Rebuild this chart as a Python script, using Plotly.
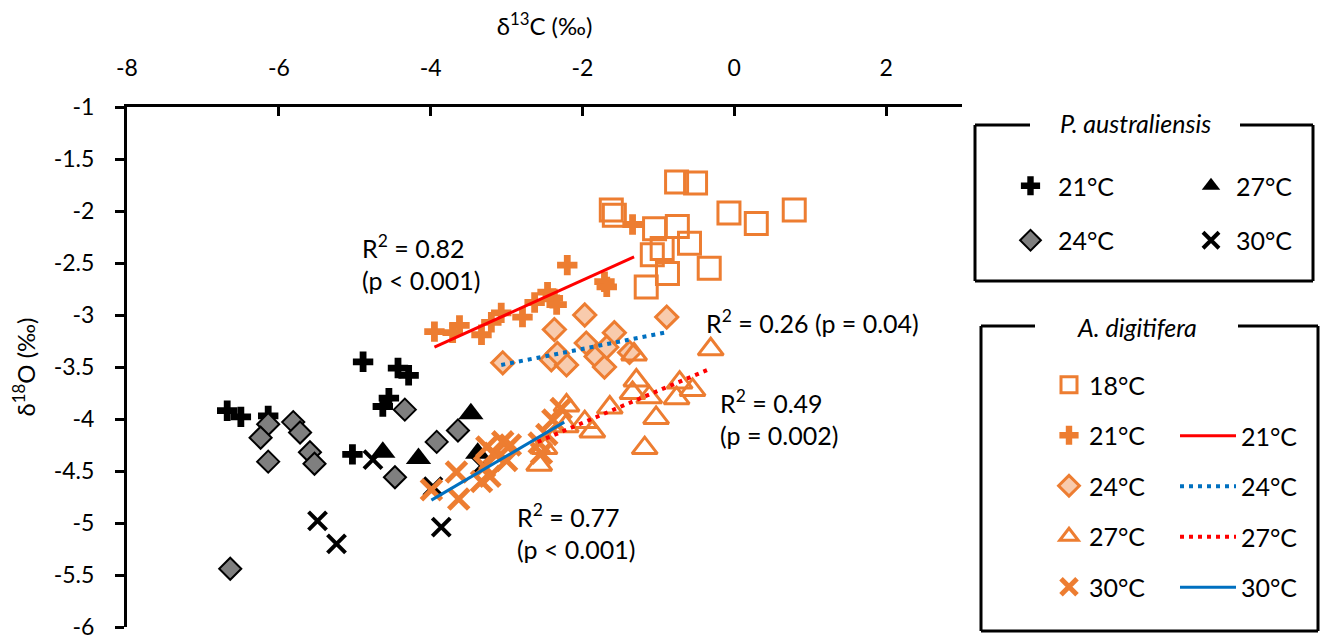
import plotly.graph_objects as go

# ---------------- data ----------------
# P. australiensis
pa21_x = [-6.68, -6.50, -6.14, -4.89, -4.43, -4.29, -4.55, -4.63, -5.03]
pa21_y = [-3.92, -3.98, -3.97, -3.45, -3.51, -3.58, -3.80, -3.88, -4.34]
pa24_x = [-6.14, -6.24, -5.81, -5.72, -6.14, -5.59, -5.53, -4.34, -4.47, -3.92, -3.64, -6.64]
pa24_y = [-4.05, -4.18, -4.03, -4.13, -4.41, -4.32, -4.43, -3.91, -4.56, -4.22, -4.11, -5.44]
pa27_x = [-4.63, -4.16, -3.47, -3.38]
pa27_y = [-4.32, -4.38, -3.95, -4.33]
pa30_x = [-4.76, -5.49, -5.24, -3.86, -3.97, -3.33]
pa30_y = [-4.39, -4.98, -5.20, -5.04, -4.65, -4.45]

# A. digitifera
ad18_x = [-0.76, -0.51, -1.62, -1.58, -0.07, 0.29, 0.79, -1.05, -0.75, -0.59, -1.08, -0.95, -0.33, -0.88, -1.16]
ad18_y = [-1.72, -1.73, -1.99, -2.04, -2.02, -2.12, -1.99, -2.17, -2.15, -2.31, -2.42, -2.36, -2.55, -2.60, -2.73]
ad21_x = [-3.95, -3.71, -3.62, -3.33, -3.20, -3.07, -2.79, -2.63, -2.46, -2.39, -2.34, -2.20, -1.71, -1.68, -1.34]
ad21_y = [-3.16, -3.17, -3.10, -3.19, -3.07, -2.98, -3.02, -2.88, -2.78, -2.84, -2.90, -2.52, -2.68, -2.73, -2.13]
ad24_x = [-3.05, -2.37, -1.97, -0.89, -2.41, -2.21, -2.33, -1.95, -1.82, -1.71, -1.58, -1.68, -1.38]
ad24_y = [-3.46, -3.14, -3.00, -3.02, -3.43, -3.48, -3.37, -3.27, -3.40, -3.50, -3.17, -3.31, -3.36]
ad27_x = [-1.32, -0.31, -1.29, -1.34, -1.12, -0.72, -0.55, -0.76, -1.03, -1.18, -1.64, -1.87, -1.97,
          -2.21, -2.57, -2.22, -2.50]
ad27_y = [-3.38, -3.33, -3.63, -3.75, -3.79, -3.65, -3.72, -3.80, -3.99, -4.28, -3.89, -4.12, -4.03,
          -3.87, -4.44, -4.07, -4.28]
ad30_x = [-3.99, -3.63, -3.66, -3.33, -3.29, -3.22, -3.16, -3.05, -3.26, -2.95, -3.00, -2.57, -2.54,
          -2.47, -2.39, -2.28]
ad30_y = [-4.68, -4.77, -4.51, -4.60, -4.46, -4.55, -4.33, -4.22, -4.27, -4.25, -4.40, -4.23, -4.33,
          -4.15, -4.01, -3.90]

# linear fits (end points of the trend lines)
fit21_x = [-3.95, -1.32]
fit21_y = [-3.31, -2.44]
fit24_x = [-3.07, -0.92]
fit24_y = [-3.48, -3.17]
fit27_x = [-2.59, -0.36]
fit27_y = [-4.22, -3.53]
fit30_x = [-3.99, -2.24]
fit30_y = [-4.78, -4.03]

x_ticks = [-8, -6, -4, -2, 0, 2]
x_tick_labels = ['-8', '-6', '-4', '-2', '0', '2']
y_ticks = [-1, -1.5, -2, -2.5, -3, -3.5, -4, -4.5, -5, -5.5, -6]
y_tick_labels = ['-1', '-1.5', '-2', '-2.5', '-3', '-3.5', '-4', '-4.5', '-5', '-5.5', '-6']

# ---------------- styling ----------------
ORANGE = '#ED7D31'
PEACH = '#F8CBAD'
GREY = '#7F7F7F'
FONT = 'Lato'

# the page body adds an 8px margin, so the figure is drawn 8px smaller
OFF = 8
W, H = 1329 - OFF, 641 - OFF
L, R, T, B = 127 - OFF, 367, 107 - OFF, 14


def px_x(p):
    # screen pixel (reference picture) -> paper x
    return (p - OFF - L) / (W - L - R)


def px_y(p):
    return (H - B - (p - OFF)) / (H - T - B)


fig = go.Figure()


def add_pts(x, y, name, legend, symbol, size, color, line_color=None, line_width=0):
    fig.add_trace(go.Scatter(
        x=x, y=y, mode='markers', name=name, legend=legend, legendgroup=legend + name,
        marker=dict(symbol=symbol, size=size, color=color,
                    line=dict(color=line_color or color, width=line_width)),
        hoverinfo='x+y'))


add_pts(pa21_x, pa21_y, '21°C', 'legend', 'cross', 17, 'black')
add_pts(pa24_x, pa24_y, '24°C', 'legend', 'diamond', 17, GREY, 'black', 2)
add_pts(pa27_x, pa27_y, '27°C', 'legend2', 'triangle-up', 22, 'black')
add_pts(pa30_x, pa30_y, '30°C', 'legend2', 'x-thin', 18, 'black', 'black', 4)

add_pts(ad18_x, ad18_y, '18°C', 'legend3', 'square-open', 22, ORANGE, ORANGE, 3)
add_pts(ad21_x, ad21_y, '21°C', 'legend3', 'cross', 17, ORANGE)
add_pts(ad24_x, ad24_y, '24°C', 'legend3', 'diamond', 17, PEACH, ORANGE, 3)
add_pts(ad27_x, ad27_y, '27°C', 'legend3', 'triangle-up-open', 22, ORANGE, ORANGE, 3)
add_pts(ad30_x, ad30_y, '30°C', 'legend3', 'x-thin', 20, ORANGE, ORANGE, 5)


def add_fit(x, y, name, color, dash, width):
    fig.add_trace(go.Scatter(
        x=x, y=y, mode='lines', name=name, legend='legend4', legendgroup='fit' + name,
        line=dict(color=color, width=width, dash=dash), hoverinfo='skip'))


add_fit(fit21_x, fit21_y, '21°C', '#FF0000', 'solid', 3)
add_fit(fit24_x, fit24_y, '24°C', '#0070C0', '4px,5px', 4)
add_fit(fit27_x, fit27_y, '27°C', '#FF0000', '4px,5px', 4)
add_fit(fit30_x, fit30_y, '30°C', '#0070C0', 'solid', 3)

# R² labels
notes = [
    (-4.93, -2.16, 'R<sup>2</sup> = 0.82<br>(p < 0.001)'),
    (-0.40, -2.885, 'R<sup>2</sup> = 0.26 (p = 0.04)'),
    (-0.22, -3.65, 'R<sup>2</sup> = 0.49<br>(p = 0.002)'),
    (-2.89, -4.75, 'R<sup>2</sup> = 0.77<br>(p < 0.001)'),
]
for nx, ny, txt in notes:
    fig.add_annotation(x=nx, y=ny, text=txt, showarrow=False, xanchor='left', yanchor='top',
                       align='left', font=dict(size=25, color='black', family=FONT))

# legend frames with the title breaking the top border
shapes = []
for (x0, x1, y0, y1, g0, g1, title, ty) in [
    (975, 1313, 125, 281, 1030, 1240, 'P. australiensis', 123),
    (981, 1318, 326, 631, 1035, 1238, 'A. digitifera', 327),
]:
    seg = dict(type='line', xref='paper', yref='paper', line=dict(color='black', width=3))
    shapes.append({**seg, 'x0': px_x(x0), 'x1': px_x(g0), 'y0': px_y(y0), 'y1': px_y(y0)})
    shapes.append({**seg, 'x0': px_x(g1), 'x1': px_x(x1), 'y0': px_y(y0), 'y1': px_y(y0)})
    shapes.append({**seg, 'x0': px_x(x0), 'x1': px_x(x0), 'y0': px_y(y0), 'y1': px_y(y1)})
    shapes.append({**seg, 'x0': px_x(x1), 'x1': px_x(x1), 'y0': px_y(y0), 'y1': px_y(y1)})
    shapes.append({**seg, 'x0': px_x(x0), 'x1': px_x(x1), 'y0': px_y(y1), 'y1': px_y(y1)})
    fig.add_annotation(x=px_x((g0 + g1) / 2), y=px_y(ty), xref='paper', yref='paper',
                       xanchor='center', yanchor='middle',
                       text='<i>' + title + '</i>', showarrow=False,
                       font=dict(size=25, color='black', family=FONT))

leg = dict(xanchor='left', yanchor='top', bgcolor='rgba(0,0,0,0)', borderwidth=0,
           font=dict(size=25, color='black', family=FONT), itemclick=False, itemdoubleclick=False)

fig.update_layout(
    width=W, height=H,
    margin=dict(l=L, r=R, t=T, b=B, autoexpand=False),
    paper_bgcolor='white', plot_bgcolor='white',
    font=dict(family=FONT, size=22, color='black'),
    shapes=shapes,
    legend={**leg, 'x': px_x(1003), 'y': px_y(163), 'tracegroupgap': 19, 'itemwidth': 45},
    legend2={**leg, 'x': px_x(1186), 'y': px_y(163), 'tracegroupgap': 19, 'itemwidth': 40},
    legend3={**leg, 'x': px_x(1049), 'y': px_y(362), 'tracegroupgap': 15},
    legend4={**leg, 'x': px_x(1175), 'y': px_y(413), 'tracegroupgap': 15, 'itemwidth': 56},
)

fig.update_xaxes(
    range=[-8, 3], side='top', tickvals=x_ticks, ticktext=x_tick_labels,
    ticks='inside', ticklen=9, tickwidth=3, tickcolor='black',
    showline=True, linewidth=3, linecolor='black', showgrid=False, zeroline=False,
    automargin=False, ticklabelstandoff=19, tickfont=dict(size=23),
    title=dict(text='δ<sup>13</sup>C (‰)', font=dict(size=24), standoff=21),
)
fig.update_yaxes(
    range=[-6, -1], tickvals=y_ticks, ticktext=y_tick_labels,
    ticks='outside', ticklen=9, tickwidth=3, tickcolor='black',
    showline=True, linewidth=3, linecolor='black', showgrid=False, zeroline=False,
    automargin=False, ticklabelstandoff=16, tickfont=dict(size=23),
    title=dict(text='δ<sup>18</sup>O (‰)', font=dict(size=24), standoff=12),
)

fig.write_html("out.html")
